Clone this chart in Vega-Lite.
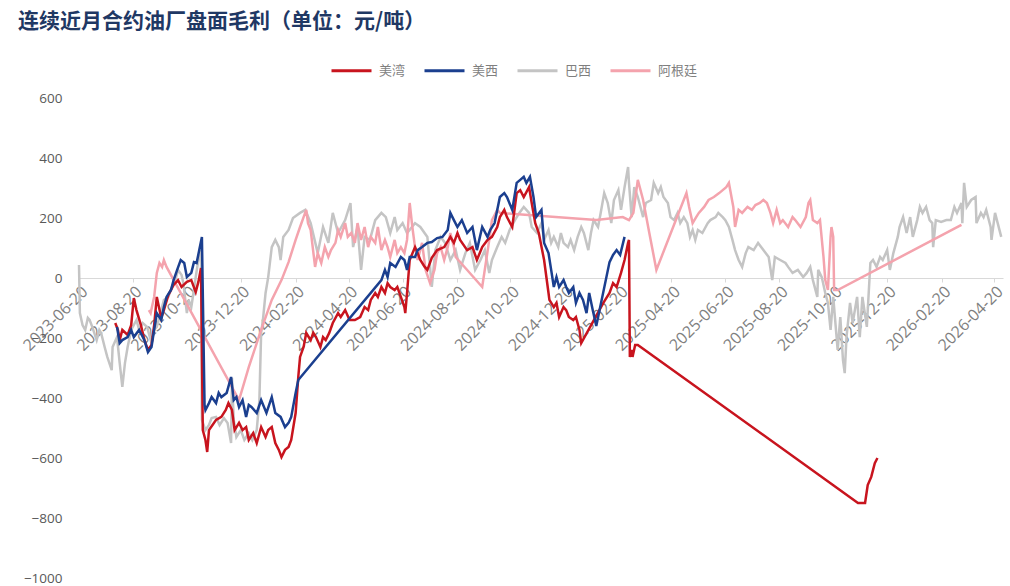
{
"$schema": "https://vega.github.io/schema/vega-lite/v6.json",
"width": 924, "height": 480,
"autosize": {"type": "none"},
"padding": {"left": 79, "top": 98, "right": 7, "bottom": 8},
"background": "white",
"config": {"view": {"stroke": null}, "font": "Noto Sans CJK SC"},
"title": {"text": "连续近月合约油厂盘面毛利（单位：元/吨）", "anchor": "start", "frame": "group", "dx": -61, "offset": 17, "fontSize": 21, "fontWeight": "bold", "color": "#1F3864", "font": "Noto Sans CJK SC"},
"datasets": {
"red": [
{"d":"2023-07-31","v":-150},{"d":"2023-08-03","v":-173},{"d":"2023-08-05","v":-207},{"d":"2023-08-08","v":-173},{"d":"2023-08-14","v":-190},{"d":"2023-08-18","v":-157},{"d":"2023-08-21","v":-67},{"d":"2023-08-24","v":-107},{"d":"2023-08-29","v":-157},{"d":"2023-09-02","v":-207},{"d":"2023-09-06","v":-240},{"d":"2023-09-10","v":-223},{"d":"2023-09-13","v":-157},{"d":"2023-09-16","v":-63},{"d":"2023-09-21","v":-133},{"d":"2023-09-24","v":-107},{"d":"2023-09-29","v":-57},{"d":"2023-10-05","v":-23},{"d":"2023-10-10","v":-7},{"d":"2023-10-14","v":-30},{"d":"2023-10-20","v":-13},{"d":"2023-10-25","v":-7},{"d":"2023-10-30","v":-47},{"d":"2023-11-02","v":-13},{"d":"2023-11-05","v":33},
{"d":"2023-11-07","v":-507},{"d":"2023-11-10","v":-540},{"d":"2023-11-12","v":-580},{"d":"2023-11-14","v":-507},{"d":"2023-11-18","v":-490},{"d":"2023-11-22","v":-473},{"d":"2023-11-28","v":-463},{"d":"2023-12-03","v":-440},{"d":"2023-12-06","v":-417},{"d":"2023-12-10","v":-440},{"d":"2023-12-13","v":-507},{"d":"2023-12-18","v":-483},{"d":"2023-12-22","v":-507},{"d":"2023-12-26","v":-497},{"d":"2023-12-29","v":-540},{"d":"2024-01-03","v":-517},{"d":"2024-01-07","v":-550},{"d":"2024-01-12","v":-497},{"d":"2024-01-17","v":-530},{"d":"2024-01-20","v":-507},{"d":"2024-01-24","v":-497},{"d":"2024-01-28","v":-550},{"d":"2024-02-01","v":-573},{"d":"2024-02-04","v":-597},{"d":"2024-02-08","v":-573},{"d":"2024-02-12","v":-563},{"d":"2024-02-15","v":-540},{"d":"2024-02-20","v":-450},{"d":"2024-02-23","v":-330},{"d":"2024-02-25","v":-263},{"d":"2024-02-29","v":-230},
{"d":"2024-03-03","v":-183},{"d":"2024-03-08","v":-207},{"d":"2024-03-11","v":-183},{"d":"2024-03-14","v":-197},{"d":"2024-03-19","v":-230},{"d":"2024-03-22","v":-197},{"d":"2024-03-25","v":-207},{"d":"2024-03-29","v":-183},{"d":"2024-04-02","v":-150},{"d":"2024-04-08","v":-117},{"d":"2024-04-11","v":-130},{"d":"2024-04-16","v":-107},{"d":"2024-04-21","v":-140},{"d":"2024-04-27","v":-140},{"d":"2024-05-03","v":-130},{"d":"2024-05-08","v":-97},{"d":"2024-05-12","v":-107},{"d":"2024-05-15","v":-73},{"d":"2024-05-20","v":-50},{"d":"2024-05-23","v":-63},{"d":"2024-05-27","v":-30},{"d":"2024-05-31","v":-50},{"d":"2024-06-03","v":-17},{"d":"2024-06-06","v":-30},{"d":"2024-06-11","v":-40},{"d":"2024-06-14","v":-30},{"d":"2024-06-18","v":-63},{"d":"2024-06-22","v":-97},{"d":"2024-06-23","v":-117},{"d":"2024-06-25","v":-50},{"d":"2024-06-28","v":60},
{"d":"2024-07-04","v":103},{"d":"2024-07-07","v":83},{"d":"2024-07-10","v":60},{"d":"2024-07-15","v":37},{"d":"2024-07-18","v":27},{"d":"2024-07-23","v":67},{"d":"2024-07-29","v":93},{"d":"2024-08-06","v":103},{"d":"2024-08-13","v":137},{"d":"2024-08-17","v":117},{"d":"2024-08-21","v":150},{"d":"2024-08-24","v":127},{"d":"2024-09-01","v":93},{"d":"2024-09-07","v":103},{"d":"2024-09-12","v":60},{"d":"2024-09-18","v":103},{"d":"2024-09-24","v":127},{"d":"2024-09-29","v":137},{"d":"2024-10-05","v":170},{"d":"2024-10-08","v":203},{"d":"2024-10-13","v":227},{"d":"2024-10-16","v":203},{"d":"2024-10-22","v":170},{"d":"2024-10-27","v":283},{"d":"2024-10-31","v":293},{"d":"2024-11-04","v":270},{"d":"2024-11-10","v":303},{"d":"2024-11-13","v":250},{"d":"2024-11-17","v":183},{"d":"2024-11-21","v":150},{"d":"2024-11-27","v":60},
{"d":"2024-12-02","v":-50},{"d":"2024-12-03","v":-73},{"d":"2024-12-08","v":-97},{"d":"2024-12-11","v":-83},{"d":"2024-12-14","v":-130},{"d":"2024-12-19","v":-97},{"d":"2024-12-22","v":-107},{"d":"2024-12-25","v":-130},{"d":"2024-12-30","v":-140},{"d":"2025-01-02","v":-130},{"d":"2025-01-06","v":-173},{"d":"2025-01-08","v":-217},{"d":"2025-02-02","v":-83},{"d":"2025-02-09","v":-50},{"d":"2025-02-13","v":-17},{"d":"2025-02-17","v":-30},{"d":"2025-02-22","v":17},{"d":"2025-02-26","v":60},{"d":"2025-03-02","v":117},{"d":"2025-03-03","v":127},{"d":"2025-03-04","v":-263},{"d":"2025-03-06","v":-240},{"d":"2025-03-07","v":-263},{"d":"2025-03-10","v":-223},{"d":"2025-03-13","v":-223},
{"d":"2025-11-17","v":-750},{"d":"2025-11-25","v":-750},{"d":"2025-11-28","v":-690},{"d":"2025-12-02","v":-663},{"d":"2025-12-06","v":-617},{"d":"2025-12-09","v":-600}
],
"blue": [
{"d":"2023-08-02","v":-163},{"d":"2023-08-05","v":-217},{"d":"2023-08-08","v":-207},{"d":"2023-08-14","v":-197},{"d":"2023-08-18","v":-173},{"d":"2023-08-21","v":-197},{"d":"2023-08-27","v":-173},{"d":"2023-09-02","v":-207},{"d":"2023-09-06","v":-247},{"d":"2023-09-10","v":-230},{"d":"2023-09-13","v":-173},{"d":"2023-09-16","v":-117},{"d":"2023-09-21","v":-140},{"d":"2023-09-24","v":-97},{"d":"2023-09-27","v":-63},{"d":"2023-10-02","v":-40},{"d":"2023-10-05","v":-7},{"d":"2023-10-09","v":27},{"d":"2023-10-13","v":60},{"d":"2023-10-17","v":50},{"d":"2023-10-20","v":3},{"d":"2023-10-25","v":17},{"d":"2023-10-28","v":53},{"d":"2023-10-31","v":50},{"d":"2023-11-03","v":93},{"d":"2023-11-06","v":137},
{"d":"2023-11-09","v":-423},{"d":"2023-11-10","v":-440},{"d":"2023-11-14","v":-417},{"d":"2023-11-17","v":-397},{"d":"2023-11-22","v":-417},{"d":"2023-11-25","v":-383},{"d":"2023-11-28","v":-397},{"d":"2023-12-04","v":-383},{"d":"2023-12-09","v":-330},{"d":"2023-12-12","v":-407},{"d":"2023-12-15","v":-397},{"d":"2023-12-18","v":-430},{"d":"2023-12-22","v":-407},{"d":"2023-12-26","v":-463},{"d":"2023-12-29","v":-423},{"d":"2024-01-01","v":-430},{"d":"2024-01-07","v":-450},{"d":"2024-01-12","v":-407},{"d":"2024-01-18","v":-450},{"d":"2024-01-24","v":-397},{"d":"2024-01-28","v":-450},{"d":"2024-02-03","v":-463},{"d":"2024-02-08","v":-497},{"d":"2024-02-12","v":-483},{"d":"2024-02-15","v":-463},{"d":"2024-02-20","v":-383},{"d":"2024-02-23","v":-340},
{"d":"2024-05-27","v":-7},{"d":"2024-05-31","v":27},{"d":"2024-06-03","v":3},{"d":"2024-06-06","v":50},{"d":"2024-06-12","v":37},{"d":"2024-06-18","v":70},{"d":"2024-06-22","v":60},{"d":"2024-06-25","v":27},{"d":"2024-06-28","v":70},{"d":"2024-07-04","v":70},{"d":"2024-07-07","v":93},{"d":"2024-07-12","v":103},{"d":"2024-07-18","v":117},{"d":"2024-07-23","v":120},{"d":"2024-07-29","v":133},{"d":"2024-08-04","v":137},{"d":"2024-08-10","v":160},{"d":"2024-08-13","v":217},{"d":"2024-08-17","v":193},{"d":"2024-08-21","v":170},{"d":"2024-08-26","v":193},{"d":"2024-09-01","v":150},{"d":"2024-09-07","v":170},{"d":"2024-09-12","v":93},{"d":"2024-09-18","v":170},{"d":"2024-09-24","v":137},{"d":"2024-09-27","v":160},{"d":"2024-10-02","v":183},{"d":"2024-10-08","v":270},{"d":"2024-10-13","v":283},{"d":"2024-10-16","v":270},{"d":"2024-10-22","v":227},{"d":"2024-10-27","v":317},{"d":"2024-10-31","v":327},{"d":"2024-11-04","v":337},{"d":"2024-11-07","v":317},{"d":"2024-11-11","v":337},{"d":"2024-11-15","v":270},{"d":"2024-11-18","v":203},{"d":"2024-11-24","v":227},{"d":"2024-11-27","v":117},
{"d":"2024-12-02","v":83},{"d":"2024-12-05","v":27},{"d":"2024-12-08","v":-30},{"d":"2024-12-11","v":3},{"d":"2024-12-14","v":-30},{"d":"2024-12-19","v":-7},{"d":"2024-12-22","v":-30},{"d":"2024-12-25","v":-50},{"d":"2024-12-30","v":-30},{"d":"2025-01-02","v":-83},{"d":"2025-01-06","v":-50},{"d":"2025-01-10","v":-73},{"d":"2025-01-14","v":-117},{"d":"2025-01-17","v":-50},{"d":"2025-01-21","v":-107},{"d":"2025-01-25","v":-160},{"d":"2025-02-09","v":53},{"d":"2025-02-13","v":77},{"d":"2025-02-17","v":93},{"d":"2025-02-21","v":77},{"d":"2025-02-26","v":137}
],
"gray": [
{"d":"2023-06-20","v":43},{"d":"2023-06-21","v":-117},{"d":"2023-06-24","v":-157},{"d":"2023-06-27","v":-173},{"d":"2023-06-30","v":-133},{"d":"2023-07-02","v":-140},{"d":"2023-07-05","v":-163},{"d":"2023-07-10","v":-207},{"d":"2023-07-13","v":-173},{"d":"2023-07-15","v":-183},{"d":"2023-07-19","v":-230},{"d":"2023-07-22","v":-263},{"d":"2023-07-27","v":-307},{"d":"2023-07-28","v":-230},{"d":"2023-08-02","v":-197},{"d":"2023-08-05","v":-283},{"d":"2023-08-08","v":-363},{"d":"2023-08-11","v":-283},{"d":"2023-08-14","v":-230},{"d":"2023-08-18","v":-173},{"d":"2023-08-24","v":-140},{"d":"2023-08-27","v":-173},{"d":"2023-08-31","v":-150},{"d":"2023-09-05","v":-163},{"d":"2023-09-10","v":-217},{"d":"2023-09-13","v":-173},{"d":"2023-09-16","v":-163},{"d":"2023-09-21","v":-107},{"d":"2023-09-24","v":-73},{"d":"2023-09-29","v":-63},{"d":"2023-10-04","v":-23},{"d":"2023-10-07","v":-7},{"d":"2023-10-10","v":27},{"d":"2023-10-14","v":10},{"d":"2023-10-16","v":-17},{"d":"2023-10-20","v":-117},{"d":"2023-10-22","v":-73},{"d":"2023-10-25","v":-97},{"d":"2023-10-28","v":-40},{"d":"2023-10-30","v":3},{"d":"2023-11-02","v":60},{"d":"2023-11-04","v":70},{"d":"2023-11-05","v":93},
{"d":"2023-11-06","v":-473},{"d":"2023-11-10","v":-507},{"d":"2023-11-14","v":-490},{"d":"2023-11-17","v":-467},{"d":"2023-11-22","v":-463},{"d":"2023-11-26","v":-490},{"d":"2023-12-01","v":-467},{"d":"2023-12-05","v":-483},{"d":"2023-12-09","v":-550},{"d":"2023-12-10","v":-333},{"d":"2023-12-12","v":-473},{"d":"2023-12-15","v":-530},{"d":"2023-12-20","v":-507},{"d":"2023-12-24","v":-540},{"d":"2023-12-29","v":-517},{"d":"2024-01-02","v":-540},{"d":"2024-01-07","v":-507},{"d":"2024-01-10","v":-407},{"d":"2024-01-12","v":-183},{"d":"2024-01-14","v":-140},{"d":"2024-01-17","v":-50},{"d":"2024-01-20","v":3},{"d":"2024-01-24","v":103},{"d":"2024-01-28","v":127},{"d":"2024-02-01","v":103},{"d":"2024-02-03","v":60},{"d":"2024-02-06","v":137},{"d":"2024-02-12","v":160},{"d":"2024-02-17","v":200},{"d":"2024-02-25","v":217},{"d":"2024-03-02","v":227},{"d":"2024-03-08","v":183},{"d":"2024-03-16","v":83},{"d":"2024-03-22","v":170},{"d":"2024-03-28","v":117},{"d":"2024-04-02","v":217},{"d":"2024-04-08","v":150},{"d":"2024-04-16","v":193},{"d":"2024-04-22","v":250},{"d":"2024-04-25","v":103},{"d":"2024-04-30","v":170},{"d":"2024-05-04","v":27},{"d":"2024-05-08","v":137},{"d":"2024-05-14","v":127},{"d":"2024-05-20","v":193},{"d":"2024-05-27","v":217},{"d":"2024-06-01","v":203},{"d":"2024-06-06","v":150},{"d":"2024-06-11","v":203},{"d":"2024-06-14","v":160},{"d":"2024-06-20","v":183},{"d":"2024-06-25","v":150},
{"d":"2024-07-04","v":183},{"d":"2024-07-10","v":170},{"d":"2024-07-18","v":137},{"d":"2024-07-23","v":-30},{"d":"2024-07-27","v":93},{"d":"2024-08-02","v":137},{"d":"2024-08-07","v":117},{"d":"2024-08-13","v":60},{"d":"2024-08-19","v":93},{"d":"2024-08-24","v":27},{"d":"2024-08-30","v":83},{"d":"2024-09-04","v":117},{"d":"2024-09-10","v":27},{"d":"2024-09-16","v":60},{"d":"2024-09-21","v":93},{"d":"2024-09-26","v":17},{"d":"2024-09-29","v":60},{"d":"2024-10-05","v":103},{"d":"2024-10-10","v":137},{"d":"2024-10-14","v":117},{"d":"2024-10-19","v":160},{"d":"2024-10-25","v":193},{"d":"2024-10-30","v":217},{"d":"2024-11-04","v":237},{"d":"2024-11-10","v":217},{"d":"2024-11-13","v":170},{"d":"2024-11-19","v":150},{"d":"2024-11-24","v":183},{"d":"2024-11-27","v":127},{"d":"2024-12-02","v":160},{"d":"2024-12-05","v":117},{"d":"2024-12-08","v":137},{"d":"2024-12-13","v":103},{"d":"2024-12-16","v":150},{"d":"2024-12-19","v":117},{"d":"2024-12-24","v":103},{"d":"2024-12-27","v":127},{"d":"2024-12-31","v":93},{"d":"2025-01-04","v":137},{"d":"2025-01-08","v":170},{"d":"2025-01-11","v":150},{"d":"2025-01-16","v":93},{"d":"2025-01-19","v":150},{"d":"2025-01-22","v":193},{"d":"2025-01-27","v":170},{"d":"2025-01-30","v":217},{"d":"2025-02-03","v":283},{"d":"2025-02-07","v":250},{"d":"2025-02-11","v":183},{"d":"2025-02-14","v":260},{"d":"2025-02-19","v":293},{"d":"2025-02-22","v":227},{"d":"2025-02-26","v":303},{"d":"2025-03-02","v":370},{"d":"2025-03-03","v":317},{"d":"2025-03-06","v":203},{"d":"2025-03-09","v":303},{"d":"2025-03-13","v":270},{"d":"2025-03-19","v":203},{"d":"2025-03-22","v":250},{"d":"2025-03-28","v":260},{"d":"2025-03-31","v":317},{"d":"2025-04-05","v":283},{"d":"2025-04-08","v":303},{"d":"2025-04-11","v":270},{"d":"2025-04-16","v":250},{"d":"2025-04-19","v":203},{"d":"2025-04-23","v":193},{"d":"2025-04-27","v":217},{"d":"2025-04-30","v":183},{"d":"2025-05-04","v":203},{"d":"2025-05-08","v":183},{"d":"2025-05-11","v":137},{"d":"2025-05-14","v":160},{"d":"2025-05-17","v":127},{"d":"2025-05-20","v":160},{"d":"2025-05-25","v":150},{"d":"2025-05-31","v":183},{"d":"2025-06-03","v":193},{"d":"2025-06-09","v":203},{"d":"2025-06-12","v":217},{"d":"2025-06-17","v":203},{"d":"2025-06-20","v":193},{"d":"2025-06-24","v":170},{"d":"2025-06-28","v":127},{"d":"2025-07-01","v":93},{"d":"2025-07-05","v":60},{"d":"2025-07-09","v":37},{"d":"2025-07-13","v":83},{"d":"2025-07-16","v":103},{"d":"2025-07-22","v":93},{"d":"2025-07-27","v":117},{"d":"2025-08-02","v":93},{"d":"2025-08-08","v":70},{"d":"2025-08-12","v":-7},{"d":"2025-08-15","v":70},{"d":"2025-08-21","v":60},{"d":"2025-08-27","v":50},{"d":"2025-08-30","v":37},{"d":"2025-09-04","v":17},{"d":"2025-09-10","v":27},{"d":"2025-09-16","v":3},{"d":"2025-09-20","v":17},{"d":"2025-09-24","v":37},{"d":"2025-09-27","v":-7},{"d":"2025-10-02","v":-63},{"d":"2025-10-03","v":27},{"d":"2025-10-07","v":3},{"d":"2025-10-11","v":-50},{"d":"2025-10-14","v":-83},{"d":"2025-10-17","v":-173},{"d":"2025-10-20","v":-63},{"d":"2025-10-25","v":-240},{"d":"2025-10-28","v":-130},{"d":"2025-10-31","v":-273},{"d":"2025-11-02","v":-317},{"d":"2025-11-04","v":-197},{"d":"2025-11-08","v":-83},{"d":"2025-11-11","v":-150},{"d":"2025-11-16","v":-63},{"d":"2025-11-19","v":-197},{"d":"2025-11-22","v":-63},{"d":"2025-11-27","v":-163},{"d":"2025-12-01","v":50},{"d":"2025-12-04","v":60},{"d":"2025-12-08","v":37},{"d":"2025-12-12","v":70},{"d":"2025-12-15","v":60},{"d":"2025-12-20","v":93},{"d":"2025-12-23","v":27},{"d":"2025-12-27","v":83},{"d":"2026-01-01","v":137},{"d":"2026-01-03","v":170},{"d":"2026-01-07","v":203},{"d":"2026-01-11","v":150},{"d":"2026-01-15","v":203},{"d":"2026-01-18","v":137},{"d":"2026-01-23","v":193},{"d":"2026-01-26","v":237},{"d":"2026-01-29","v":217},{"d":"2026-02-02","v":237},{"d":"2026-02-06","v":193},{"d":"2026-02-09","v":183},{"d":"2026-02-10","v":103},{"d":"2026-02-13","v":193},{"d":"2026-02-19","v":187},{"d":"2026-02-25","v":193},{"d":"2026-03-02","v":193},{"d":"2026-03-06","v":237},{"d":"2026-03-09","v":217},{"d":"2026-03-14","v":250},{"d":"2026-03-15","v":183},{"d":"2026-03-17","v":317},{"d":"2026-03-20","v":237},{"d":"2026-03-25","v":260},{"d":"2026-03-30","v":270},{"d":"2026-03-31","v":183},{"d":"2026-04-05","v":217},{"d":"2026-04-08","v":203},{"d":"2026-04-11","v":227},{"d":"2026-04-16","v":170},{"d":"2026-04-17","v":127},{"d":"2026-04-21","v":217},{"d":"2026-04-24","v":183},{"d":"2026-04-28","v":137}
],
"pink": [
{"d":"2023-09-07","v":-107},{"d":"2023-09-09","v":-117},{"d":"2023-09-13","v":-63},{"d":"2023-09-16","v":17},{"d":"2023-09-19","v":50},{"d":"2023-09-22","v":37},{"d":"2023-09-24","v":60},{"d":"2023-09-27","v":37},{"d":"2023-12-18","v":-407},{"d":"2023-12-29","v":-297},{"d":"2024-01-12","v":-173},{"d":"2024-01-24","v":-73},{"d":"2024-02-04","v":-7},{"d":"2024-02-12","v":53},{"d":"2024-02-20","v":127},{"d":"2024-02-25","v":170},{"d":"2024-02-29","v":203},{"d":"2024-03-03","v":227},{"d":"2024-03-05","v":183},{"d":"2024-03-08","v":160},{"d":"2024-03-13","v":37},{"d":"2024-03-16","v":83},{"d":"2024-03-20","v":50},{"d":"2024-03-24","v":103},{"d":"2024-03-28","v":70},{"d":"2024-03-31","v":93},{"d":"2024-04-05","v":117},{"d":"2024-04-08","v":160},{"d":"2024-04-11","v":137},{"d":"2024-04-16","v":183},{"d":"2024-04-19","v":137},{"d":"2024-04-23","v":150},{"d":"2024-04-27","v":117},{"d":"2024-04-30","v":183},{"d":"2024-05-04","v":127},{"d":"2024-05-08","v":170},{"d":"2024-05-12","v":103},{"d":"2024-05-15","v":137},{"d":"2024-05-20","v":117},{"d":"2024-05-23","v":170},{"d":"2024-05-27","v":93},{"d":"2024-05-31","v":127},{"d":"2024-06-03","v":103},{"d":"2024-06-06","v":70},{"d":"2024-06-11","v":127},{"d":"2024-06-14","v":83},{"d":"2024-06-18","v":103},{"d":"2024-06-22","v":83},{"d":"2024-06-25","v":127},{"d":"2024-06-28","v":250},{"d":"2024-07-01","v":170},{"d":"2024-07-04","v":103},{"d":"2024-07-07","v":60},{"d":"2024-07-12","v":117},{"d":"2024-07-16","v":27},{"d":"2024-07-21","v":-17},{"d":"2024-07-26","v":27},{"d":"2024-07-29","v":83},{"d":"2024-08-02","v":103},{"d":"2024-08-06","v":60},{"d":"2024-08-10","v":103},{"d":"2024-08-13","v":150},{"d":"2024-08-17","v":103},{"d":"2024-08-19","v":70},{"d":"2024-09-18","v":-30},{"d":"2024-09-26","v":127},{"d":"2024-09-29","v":193},{"d":"2024-10-05","v":227},{"d":"2024-10-08","v":217},{"d":"2025-01-25","v":193},{"d":"2025-02-24","v":203},{"d":"2025-03-03","v":193},{"d":"2025-03-08","v":217},{"d":"2025-03-13","v":327},{"d":"2025-03-19","v":260},{"d":"2025-03-26","v":150},{"d":"2025-04-03","v":27},{"d":"2025-05-07","v":283},{"d":"2025-05-10","v":237},{"d":"2025-05-14","v":183},{"d":"2025-05-18","v":203},{"d":"2025-05-21","v":217},{"d":"2025-05-27","v":237},{"d":"2025-06-01","v":260},{"d":"2025-06-07","v":270},{"d":"2025-06-13","v":283},{"d":"2025-06-17","v":293},{"d":"2025-06-21","v":303},{"d":"2025-06-24","v":317},{"d":"2025-06-29","v":237},{"d":"2025-07-01","v":170},{"d":"2025-07-05","v":227},{"d":"2025-07-09","v":217},{"d":"2025-07-15","v":237},{"d":"2025-07-20","v":227},{"d":"2025-07-24","v":243},{"d":"2025-07-29","v":250},{"d":"2025-08-02","v":260},{"d":"2025-08-06","v":250},{"d":"2025-08-10","v":217},{"d":"2025-08-13","v":183},{"d":"2025-08-17","v":227},{"d":"2025-08-21","v":183},{"d":"2025-08-24","v":193},{"d":"2025-08-30","v":170},{"d":"2025-09-04","v":203},{"d":"2025-09-07","v":193},{"d":"2025-09-13","v":170},{"d":"2025-09-19","v":203},{"d":"2025-09-22","v":250},{"d":"2025-09-24","v":260},{"d":"2025-09-27","v":193},{"d":"2025-10-02","v":183},{"d":"2025-10-05","v":193},{"d":"2025-10-09","v":70},{"d":"2025-10-11","v":-7},{"d":"2025-10-14","v":-40},{"d":"2025-10-17","v":137},{"d":"2025-10-18","v":170},{"d":"2025-10-20","v":137},{"d":"2025-10-21","v":-40},{"d":"2025-10-25","v":-40},{"d":"2026-03-14","v":177}
]
},
"encoding": {
  "x": {"field": "d", "type": "temporal",
    "scale": {"type": "utc", "domain": [{"year": 2023, "month": 6, "date": 20, "utc": true}, {"year": 2026, "month": 4, "date": 30, "utc": true}]},
    "axis": {"values": [
      {"year": 2023, "month": 6, "date": 20, "utc": true},{"year": 2023, "month": 8, "date": 20, "utc": true},{"year": 2023, "month": 10, "date": 20, "utc": true},{"year": 2023, "month": 12, "date": 20, "utc": true},
      {"year": 2024, "month": 2, "date": 20, "utc": true},{"year": 2024, "month": 4, "date": 20, "utc": true},{"year": 2024, "month": 6, "date": 20, "utc": true},{"year": 2024, "month": 8, "date": 20, "utc": true},{"year": 2024, "month": 10, "date": 20, "utc": true},{"year": 2024, "month": 12, "date": 20, "utc": true},
      {"year": 2025, "month": 2, "date": 20, "utc": true},{"year": 2025, "month": 4, "date": 20, "utc": true},{"year": 2025, "month": 6, "date": 20, "utc": true},{"year": 2025, "month": 8, "date": 20, "utc": true},{"year": 2025, "month": 10, "date": 20, "utc": true},{"year": 2025, "month": 12, "date": 20, "utc": true},
      {"year": 2026, "month": 2, "date": 20, "utc": true},{"year": 2026, "month": 4, "date": 20, "utc": true}],
      "labelExpr": "utcFormat(datum.value, '%Y-%m-%d')", "labelAngle": -45, "labelAlign": "right", "labelBaseline": "top", "offset": -300, "title": null, "grid": false,
      "domainColor": "#D9D9D9", "domainWidth": 1, "tickColor": "#D9D9D9", "tickSize": 4,
      "labelColor": "#7F7F7F", "labelFontSize": 16, "labelFont": "Open Sans", "labelPadding": 1,
      "labelFlush": false, "labelOverlap": false, "labelBound": false}},
  "y": {"field": "v", "type": "quantitative",
    "scale": {"domain": [-1000, 600], "nice": false, "zero": false},
    "axis": {"values": [-1000, -800, -600, -400, -200, 0, 200, 400, 600], "format": "d", "title": null, "grid": false, "domain": false, "ticks": false,
      "labelPadding": 17, "labelColor": "#595959", "labelFontSize": 13.5, "labelFont": "Open Sans"}},
  "color": {"field": "s", "type": "nominal",
    "scale": {"domain": ["美湾", "美西", "巴西", "阿根廷"], "range": ["#C8141E", "#1B3F8F", "#C4C4C4", "#F4A3AD"]},
    "legend": {"orient": "none", "legendX": 251, "legendY": -49, "direction": "horizontal", "title": null,
      "symbolType": "stroke", "symbolSize": 1600, "symbolStrokeWidth": 3, "labelFontSize": 13, "labelColor": "#7F7F7F",
      "labelOffset": 6, "columnPadding": 12, "labelFont": "Noto Sans CJK SC"}}
},
"layer": [
  {"data": {"name": "gray"}, "transform": [{"calculate": "'巴西'", "as": "s"}], "mark": {"type": "line", "strokeWidth": 2.5}},
  {"data": {"name": "pink"}, "transform": [{"calculate": "'阿根廷'", "as": "s"}], "mark": {"type": "line", "strokeWidth": 2.5}},
  {"data": {"name": "red"}, "transform": [{"calculate": "'美湾'", "as": "s"}], "mark": {"type": "line", "strokeWidth": 2.5}},
  {"data": {"name": "blue"}, "transform": [{"calculate": "'美西'", "as": "s"}], "mark": {"type": "line", "strokeWidth": 2.5}}
]
}
